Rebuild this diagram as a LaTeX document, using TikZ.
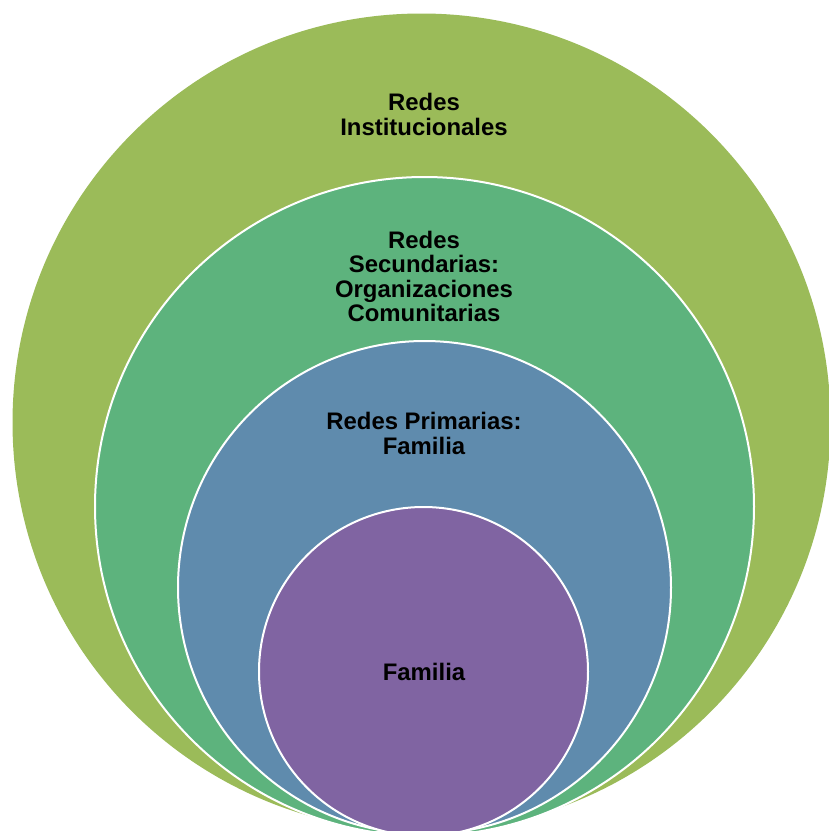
\documentclass[tikz,border=0pt]{standalone}
\usepackage{fontspec}
\setmainfont{Liberation Sans}
\begin{document}
\begin{tikzpicture}[x=1pt,y=-1pt,
  ring/.style={draw=white,line width=2pt},
  lbl/.style={font=\fontsize{23.9}{24.5}\selectfont\bfseries,align=center,text=black}]
\useasboundingbox (0,0) rectangle (829,831);
\clip (0,0) rectangle (829,831);
\definecolor{cA}{HTML}{9BBB59}
\definecolor{cB}{HTML}{5DB37D}
\definecolor{cC}{HTML}{5F8BAD}
\definecolor{cD}{HTML}{8064A2}
\fill[cA] (421.5,422.5) circle[radius=409];
\filldraw[fill=cB,ring] (424.5,506.5) circle[radius=329.5];
\filldraw[fill=cC,ring] (424.5,587.5) circle[radius=246.5];
\filldraw[fill=cD,ring] (423.5,671.5) circle[radius=164.5];
\node[lbl] (t1) at (424,114.5) {Redes\\Institucionales};
\node[lbl] (t2) at (424,276.5) {Redes\\Secundarias:\\Organizaciones\\Comunitarias};
\node[lbl] (t3) at (424,433.5) {Redes Primarias:\\Familia};
\node[lbl] (t4) at (424,672) {Familia};
\end{tikzpicture}
\end{document}
